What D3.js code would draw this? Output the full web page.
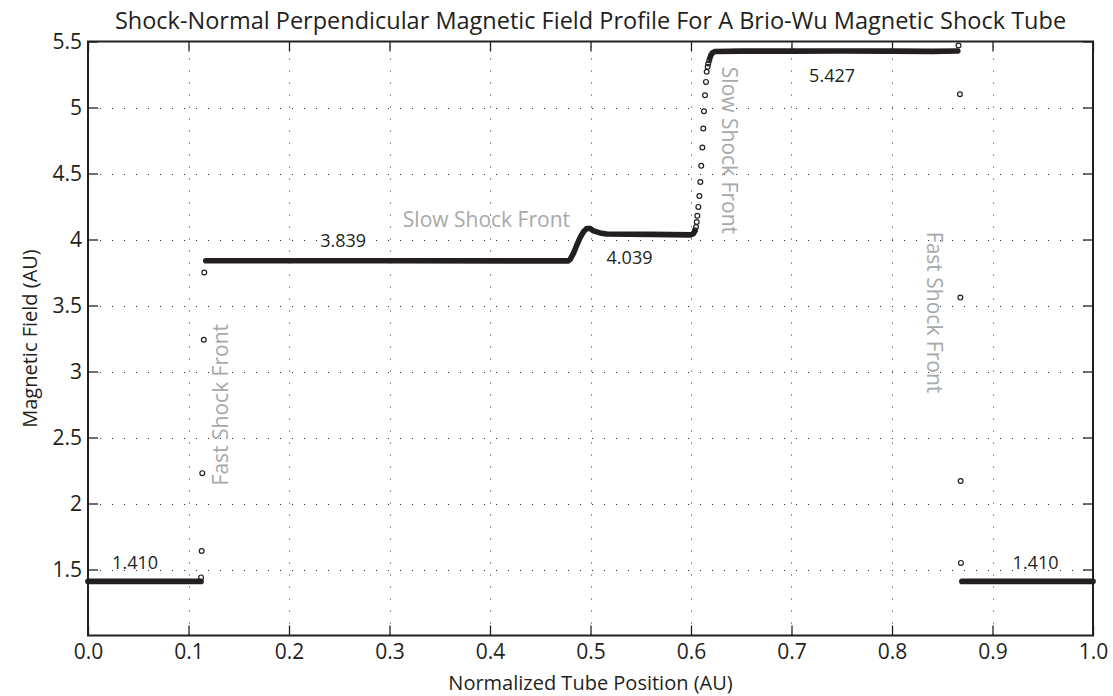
<!DOCTYPE html>
<html>
<head>
<meta charset="utf-8">
<script src="https://cdn.jsdelivr.net/npm/d3@7"></script>
<style>
  body { margin: 0; background: #fff; }
  text { font-family: "Open Sans", sans-serif; fill: #231f20; }
  .domain { display: none; }
</style>
</head>
<body>
<script>
// ---- data ----
const xTicks = [0, 0.1, 0.2, 0.3, 0.4, 0.5, 0.6, 0.7, 0.8, 0.9, 1.0];
const yTicks = [1.5, 2, 2.5, 3, 3.5, 4, 4.5, 5, 5.5];

// dense runs of samples (they merge into a thick trail)
const leftStateX = [0, 0.1125];
const leftStateB = [1.41, 1.41];
const middleX = [0.1172, 0.30, 0.4777, 0.4796, 0.4830, 0.4863, 0.4897, 0.4930, 0.4963, 0.4997, 0.5030, 0.5095, 0.5160, 0.560, 0.600, 0.6025, 0.6035];
const middleB = [3.839, 3.839, 3.838, 3.848, 3.894, 3.957, 4.015, 4.058, 4.083, 4.083, 4.065, 4.050, 4.042, 4.039, 4.035, 4.045, 4.062];
const upperX = [0.6188, 0.6200, 0.6215, 0.6240, 0.650, 0.700, 0.750, 0.800, 0.840, 0.8655];
const upperB = [5.375, 5.400, 5.415, 5.424, 5.427, 5.427, 5.428, 5.427, 5.425, 5.428];
const rightStateX = [0.8695, 1.0];
const rightStateB = [1.41, 1.41];

// isolated samples inside the shock fronts
const fastLeftX = [0.1125, 0.1131, 0.1137, 0.1152, 0.1157];
const fastLeftB = [1.44, 1.64, 2.23, 3.24, 3.75];
const slowX = [0.6040, 0.6050, 0.6057, 0.6063, 0.6073, 0.6083, 0.6093, 0.6102, 0.6113, 0.6122, 0.6129, 0.6139, 0.6149, 0.6156, 0.6166, 0.6172, 0.6182];
const slowB = [4.070, 4.095, 4.133, 4.179, 4.247, 4.330, 4.436, 4.558, 4.697, 4.841, 4.972, 5.093, 5.194, 5.270, 5.308, 5.333, 5.358];
const fastRightX = [0.8662, 0.8676, 0.8680, 0.8683, 0.8686];
const fastRightB = [5.47, 5.10, 3.56, 2.17, 1.55];

const stateLabels = ["1.410", "3.839", "4.039", "5.427", "1.410"];
const stateLabelX = [0.024, 0.231, 0.516, 0.7632, 0.920];
const stateLabelB = [1.503, 3.94, 3.818, 5.194, 1.503];
const stateLabelAnchor = ["start", "start", "start", "end", "start"];

const frontLabels = ["Fast Shock Front", "Slow Shock Front", "Slow Shock Front", "Fast Shock Front"];
const frontLabelX = [0.1398, 0.4796, 0.6308, 0.8345];
const frontLabelB = [2.137, 4.095, 5.308, 4.058];
const frontLabelRot = [-90, 0, 90, 90];
const frontLabelAnchor = ["start", "end", "start", "start"];

// ---- layout ----
const width = 1113, height = 696;
const margin = { top: 41.5, right: 20, bottom: 60.5, left: 88 };
const ink = "#231f20";

const svg = d3.select("body").append("svg")
  .attr("width", width)
  .attr("height", height);

const x = d3.scaleLinear().domain([0, 1]).range([margin.left, width - margin.right]);
const y = d3.scaleLinear().domain([1, 5.5]).range([height - margin.bottom, margin.top]);

// dotted grid
const grid = svg.append("g").attr("stroke", "#333").attr("stroke-width", 1).attr("stroke-dasharray", "1,11");
grid.selectAll("line.vx")
  .data(xTicks.filter(d => d > 0 && d < 1))
  .enter().append("line")
  .attr("x1", d => Math.round(x(d)) + 0.5).attr("x2", d => Math.round(x(d)) + 0.5)
  .attr("y1", y(1)).attr("y2", y(5.5));
grid.selectAll("line.hy")
  .data(yTicks.filter(d => d < 5.5))
  .enter().append("line")
  .attr("y1", d => Math.round(y(d)) + 0.5).attr("y2", d => Math.round(y(d)) + 0.5)
  .attr("x1", x(0)).attr("x2", x(1));

// axes with inward ticks
const tickLen = 10;
svg.append("g")
  .attr("transform", `translate(0,${y(1)})`)
  .call(d3.axisBottom(x).tickValues(xTicks).tickFormat(d3.format(".1f")).tickSizeInner(-tickLen).tickSizeOuter(0).tickPadding(9));
svg.append("g")
  .attr("transform", `translate(${x(0)},0)`)
  .call(d3.axisLeft(y).tickValues(yTicks).tickFormat(d3.format("~g")).tickSizeInner(-tickLen).tickSizeOuter(0).tickPadding(6));
svg.append("g")
  .attr("transform", `translate(0,${y(5.5)})`)
  .call(d3.axisTop(x).tickValues(xTicks).tickFormat("").tickSizeInner(-tickLen).tickSizeOuter(0));
svg.append("g")
  .attr("transform", `translate(${x(1)},0)`)
  .call(d3.axisRight(y).tickValues(yTicks).tickFormat("").tickSizeInner(-tickLen).tickSizeOuter(0));

svg.selectAll(".tick line").attr("stroke", ink).attr("stroke-width", 1.3);
svg.selectAll(".tick text").style("font-size", "21px").attr("fill", ink);

svg.append("rect")
  .attr("x", x(0)).attr("y", y(5.5))
  .attr("width", x(1) - x(0)).attr("height", y(1) - y(5.5))
  .attr("fill", "none").attr("stroke", ink).attr("stroke-width", 2);

// dense trails
const trail = d3.line().x(d => x(d[0])).y(d => y(d[1]));
const runs = [
  d3.zip(leftStateX, leftStateB),
  d3.zip(middleX, middleB),
  d3.zip(upperX, upperB),
  d3.zip(rightStateX, rightStateB)
];
svg.append("g").selectAll("path")
  .data(runs)
  .enter().append("path")
  .attr("d", trail)
  .attr("fill", "none")
  .attr("stroke", ink)
  .attr("stroke-width", 5.6)
  .attr("stroke-linecap", "round")
  .attr("stroke-linejoin", "round");

// isolated samples as open circles
const sparse = [].concat(
  d3.zip(fastLeftX, fastLeftB),
  d3.zip(slowX, slowB),
  d3.zip(fastRightX, fastRightB)
);
svg.append("g").selectAll("circle")
  .data(sparse)
  .enter().append("circle")
  .attr("cx", d => x(d[0]))
  .attr("cy", d => y(d[1]))
  .attr("r", 2.4)
  .attr("fill", "none")
  .attr("stroke", ink)
  .attr("stroke-width", 1.2);

// plateau values
svg.append("g").selectAll("text")
  .data(stateLabels)
  .enter().append("text")
  .attr("x", (d, i) => x(stateLabelX[i]))
  .attr("y", (d, i) => y(stateLabelB[i]))
  .attr("text-anchor", (d, i) => stateLabelAnchor[i])
  .style("font-size", "18px")
  .text(d => d);

// shock front notes
svg.append("g").selectAll("text")
  .data(frontLabels)
  .enter().append("text")
  .attr("transform", (d, i) => `translate(${x(frontLabelX[i])},${y(frontLabelB[i])}) rotate(${frontLabelRot[i]})`)
  .attr("text-anchor", (d, i) => frontLabelAnchor[i])
  .style("font-size", "21px")
  .style("fill", "#a7a9ac")
  .text(d => d);

// titles
svg.append("text")
  .attr("x", (x(0) + x(1)) / 2)
  .attr("y", 29)
  .attr("text-anchor", "middle")
  .style("font-size", "23.5px")
  .text("Shock-Normal Perpendicular Magnetic Field Profile For A Brio-Wu Magnetic Shock Tube");

svg.append("text")
  .attr("x", (x(0) + x(1)) / 2)
  .attr("y", 690)
  .attr("text-anchor", "middle")
  .style("font-size", "20px")
  .text("Normalized Tube Position (AU)");

svg.append("text")
  .attr("transform", `translate(37,${(y(1) + y(5.5)) / 2}) rotate(-90)`)
  .attr("text-anchor", "middle")
  .style("font-size", "20px")
  .text("Magnetic Field (AU)");
</script>
</body>
</html>
